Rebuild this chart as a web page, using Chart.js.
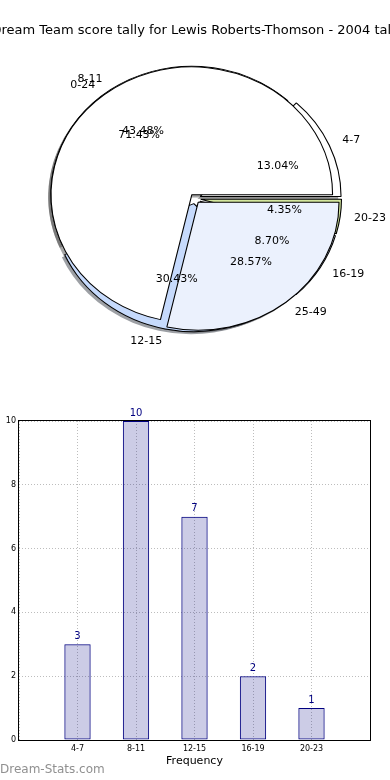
<!DOCTYPE html>
<html>
<head>
<meta charset="utf-8">
<script src="https://cdn.jsdelivr.net/npm/chart.js@4.4.0/dist/chart.umd.min.js"></script>
<style>
  html, body { margin: 0; padding: 0; background: #fff; }
  body { width: 390px; height: 780px; position: relative; overflow: hidden; }
  #chartPie { position: absolute; left: 0; top: 0; }
  #chartBars { position: absolute; left: -10px; top: 400px; }
  #title { position: absolute; left: -103px; width: 600px; top: 22px; line-height: 16px; text-align: center;
           font: 13px "DejaVu Sans", sans-serif; color: #000; white-space: nowrap; }
  #watermark { position: absolute; left: 0; top: 762px; font: 12px "DejaVu Sans", sans-serif; color: #909090; white-space: nowrap; }
</style>
</head>
<body>
<canvas id="chartPie" width="390" height="400"></canvas>
<canvas id="chartBars" width="400" height="380"></canvas>
<div id="title"></div>
<div id="watermark">Dream-Stats.com</div>
<script>
// data
const title = 'Dream Team score tally for Lewis Roberts-Thomson - 2004 tally';
const ranges = ['4-7', '8-11', '12-15', '16-19', '20-23'];
const counts = [3, 10, 7, 2, 1];
const halves = ['0-24', '25-49'];
const halfCounts = [5, 2];
const yTicks = [0, 2, 4, 6, 8, 10];

const rangeColors = ['#ffffff', '#ffffff', '#c6dafc', '#dfe8fb', '#d4e79e'];
const halfColors = ['#ffffff', '#ebf1fd'];

// the title is wider than the page and gets cut on both sides, so it is plain text, not Chart.js's squeezed title
document.getElementById('title').textContent = title;

Chart.defaults.font.family = '"DejaVu Sans", sans-serif';
Chart.defaults.color = '#000';
Chart.defaults.animation = false;

const ELLIPSE = 1.1;   // the pie is drawn a bit wider than tall

function shade(hex) {
    const n = parseInt(hex.slice(1), 16);
    const r = Math.round(((n >> 16) & 255) * 0.3);
    const g = Math.round(((n >> 8) & 255) * 0.3);
    const b = Math.round((n & 255) * 0.3);
    return `rgba(${r},${g},${b},0.5)`;
}

function pieCenter(chart) {
    const a = chart.chartArea;
    return { cx: (a.left + a.right) / 2, cy: (a.top + a.bottom) / 2 };
}

// both datasets share the full radius (overlaid pies), exploded slices, shadows and labels
const pieTricks = {
    id: 'pieTricks',
    afterDatasetsUpdate(chart) {
        const R = chart.getDatasetMeta(0).data[0].outerRadius;
        chart.data.datasets.forEach((ds, i) => {
            chart.getDatasetMeta(i).data.forEach(arc => {
                const mid = (arc.startAngle + arc.endAngle) / 2;
                arc.innerRadius = 0;
                arc.outerRadius = R;
                arc.x += Math.cos(mid) * ds.explode;
                arc.y += Math.sin(mid) * ds.explode;
            });
        });
    },
    beforeDatasetsDraw(chart) {
        const ctx = chart.ctx;
        const { cx, cy } = pieCenter(chart);
        ctx.save();
        ctx.translate(cx, cy);
        ctx.scale(ELLIPSE, 1);
        ctx.translate(-cx, -cy);
        chart.data.datasets.forEach((ds, i) => {
            chart.getDatasetMeta(i).data.forEach((arc, j) => {
                const s = arc.outerRadius * 0.02;
                ctx.beginPath();
                ctx.moveTo(arc.x - s, arc.y + s);
                ctx.arc(arc.x - s, arc.y + s, arc.outerRadius, arc.startAngle, arc.endAngle);
                ctx.closePath();
                ctx.fillStyle = shade(ds.backgroundColor[j]);
                ctx.fill();
            });
        });
    },
    afterDatasetsDraw(chart) {
        chart.ctx.restore();
    },
    afterDraw(chart) {
        const ctx = chart.ctx;
        const { cx } = pieCenter(chart);
        ctx.save();
        ctx.font = '11px "DejaVu Sans", sans-serif';
        ctx.fillStyle = '#000';
        ctx.textBaseline = 'middle';
        chart.data.datasets.forEach((ds, i) => {
            const total = ds.data.reduce((s, v) => s + v, 0);
            chart.getDatasetMeta(i).data.forEach((arc, j) => {
                const mid = (arc.startAngle + arc.endAngle) / 2;
                const c = Math.cos(mid), s = Math.sin(mid);
                const R = arc.outerRadius;
                let px = arc.x + c * R * 1.1, py = arc.y + s * R * 1.1;
                ctx.textAlign = c > 0 ? 'left' : 'right';
                ctx.fillText(ds.sliceLabels[j], cx + ELLIPSE * (px - cx), py);
                px = arc.x + c * R * 0.6; py = arc.y + s * R * 0.6;
                ctx.textAlign = 'center';
                ctx.fillText((ds.data[j] / total * 100).toFixed(2) + '%', cx + ELLIPSE * (px - cx), py);
            });
        });
        ctx.restore();
    }
};

// matplotlib goes counter-clockwise from 3 o'clock, so the slices are reversed here
new Chart(document.getElementById('chartPie'), {
    type: 'pie',
    data: {
        labels: ranges.slice().reverse(),
        datasets: [{
            data: halfCounts.slice().reverse(),
            sliceLabels: halves.slice().reverse(),
            backgroundColor: halfColors.slice().reverse(),
            explode: 4.7
        }, {
            data: counts.slice().reverse(),
            sliceLabels: ranges.slice().reverse(),
            backgroundColor: rangeColors.slice().reverse(),
            explode: 5.2
        }]
    },
    options: {
        responsive: false,
        radius: 128,
        rotation: 90,
        borderColor: '#000',
        borderWidth: 1,
        layout: { padding: { top: 0, bottom: 3, left: 1, right: 1 } },
        plugins: {
            legend: { display: false },
            tooltip: { enabled: false }
        }
    },
    plugins: [pieTricks]
});

// value over each bar and a full frame round the plot
const barTricks = {
    id: 'barTricks',
    afterDatasetsDraw(chart) {
        const ctx = chart.ctx;
        const ds = chart.data.datasets[0];
        ctx.save();
        ctx.font = '10px "DejaVu Sans", sans-serif';
        ctx.fillStyle = '#000080';
        ctx.textAlign = 'center';
        ctx.textBaseline = 'bottom';
        chart.getDatasetMeta(0).data.forEach((bar, i) => {
            if (ds.data[i] == null) return;
            ctx.fillText(ds.data[i], bar.x, bar.y - 3);
        });
        ctx.restore();
    },
    afterDraw(chart) {
        const a = chart.chartArea;
        const ctx = chart.ctx;
        ctx.save();
        ctx.strokeStyle = '#000';
        ctx.lineWidth = 1;
        ctx.strokeRect(Math.round(a.left) - 0.5, Math.round(a.top) - 0.5,
            Math.round(a.right - a.left) + 1, Math.round(a.bottom - a.top) + 1);
        ctx.restore();
    }
};

new Chart(document.getElementById('chartBars'), {
    type: 'bar',
    data: {
        labels: ['', ...ranges, ''],
        datasets: [{
            data: [null, ...counts, null],
            backgroundColor: 'rgba(0,0,128,0.2)',
            borderColor: '#000080',
            borderWidth: 1,
            borderSkipped: false,
            categoryPercentage: 1,
            barPercentage: 0.45
        }]
    },
    options: {
        responsive: false,
        layout: { padding: { top: 21, right: 20, left: 0, bottom: 0 } },
        plugins: { legend: { display: false }, tooltip: { enabled: false } },
        scales: {
            x: {
                offset: false,
                grid: { offset: false, color: '#bdbdbd', drawTicks: false },
                border: { display: false, dash: [1, 2] },
                ticks: { font: { size: 8 }, padding: 4, maxRotation: 0, autoSkip: false },
                title: { display: true, text: 'Frequency', font: { size: 11 }, padding: { top: 0, bottom: 12 } },
                afterFit(scale) { scale.height = 40; }
            },
            y: {
                min: yTicks[0],
                max: yTicks[yTicks.length - 1],
                afterBuildTicks(scale) { scale.ticks = yTicks.map(v => ({ value: v })); },
                grid: { color: '#bdbdbd', drawTicks: false },
                border: { display: false, dash: [1, 2] },
                ticks: { font: { size: 8 }, padding: 3 },
                title: { display: true, text: 'Number of Games', font: { size: 11 }, padding: { top: 0, bottom: 0 } },
                afterFit(scale) { scale.width = 29; }
            }
        }
    },
    plugins: [barTricks]
});
</script>
</body>
</html>
